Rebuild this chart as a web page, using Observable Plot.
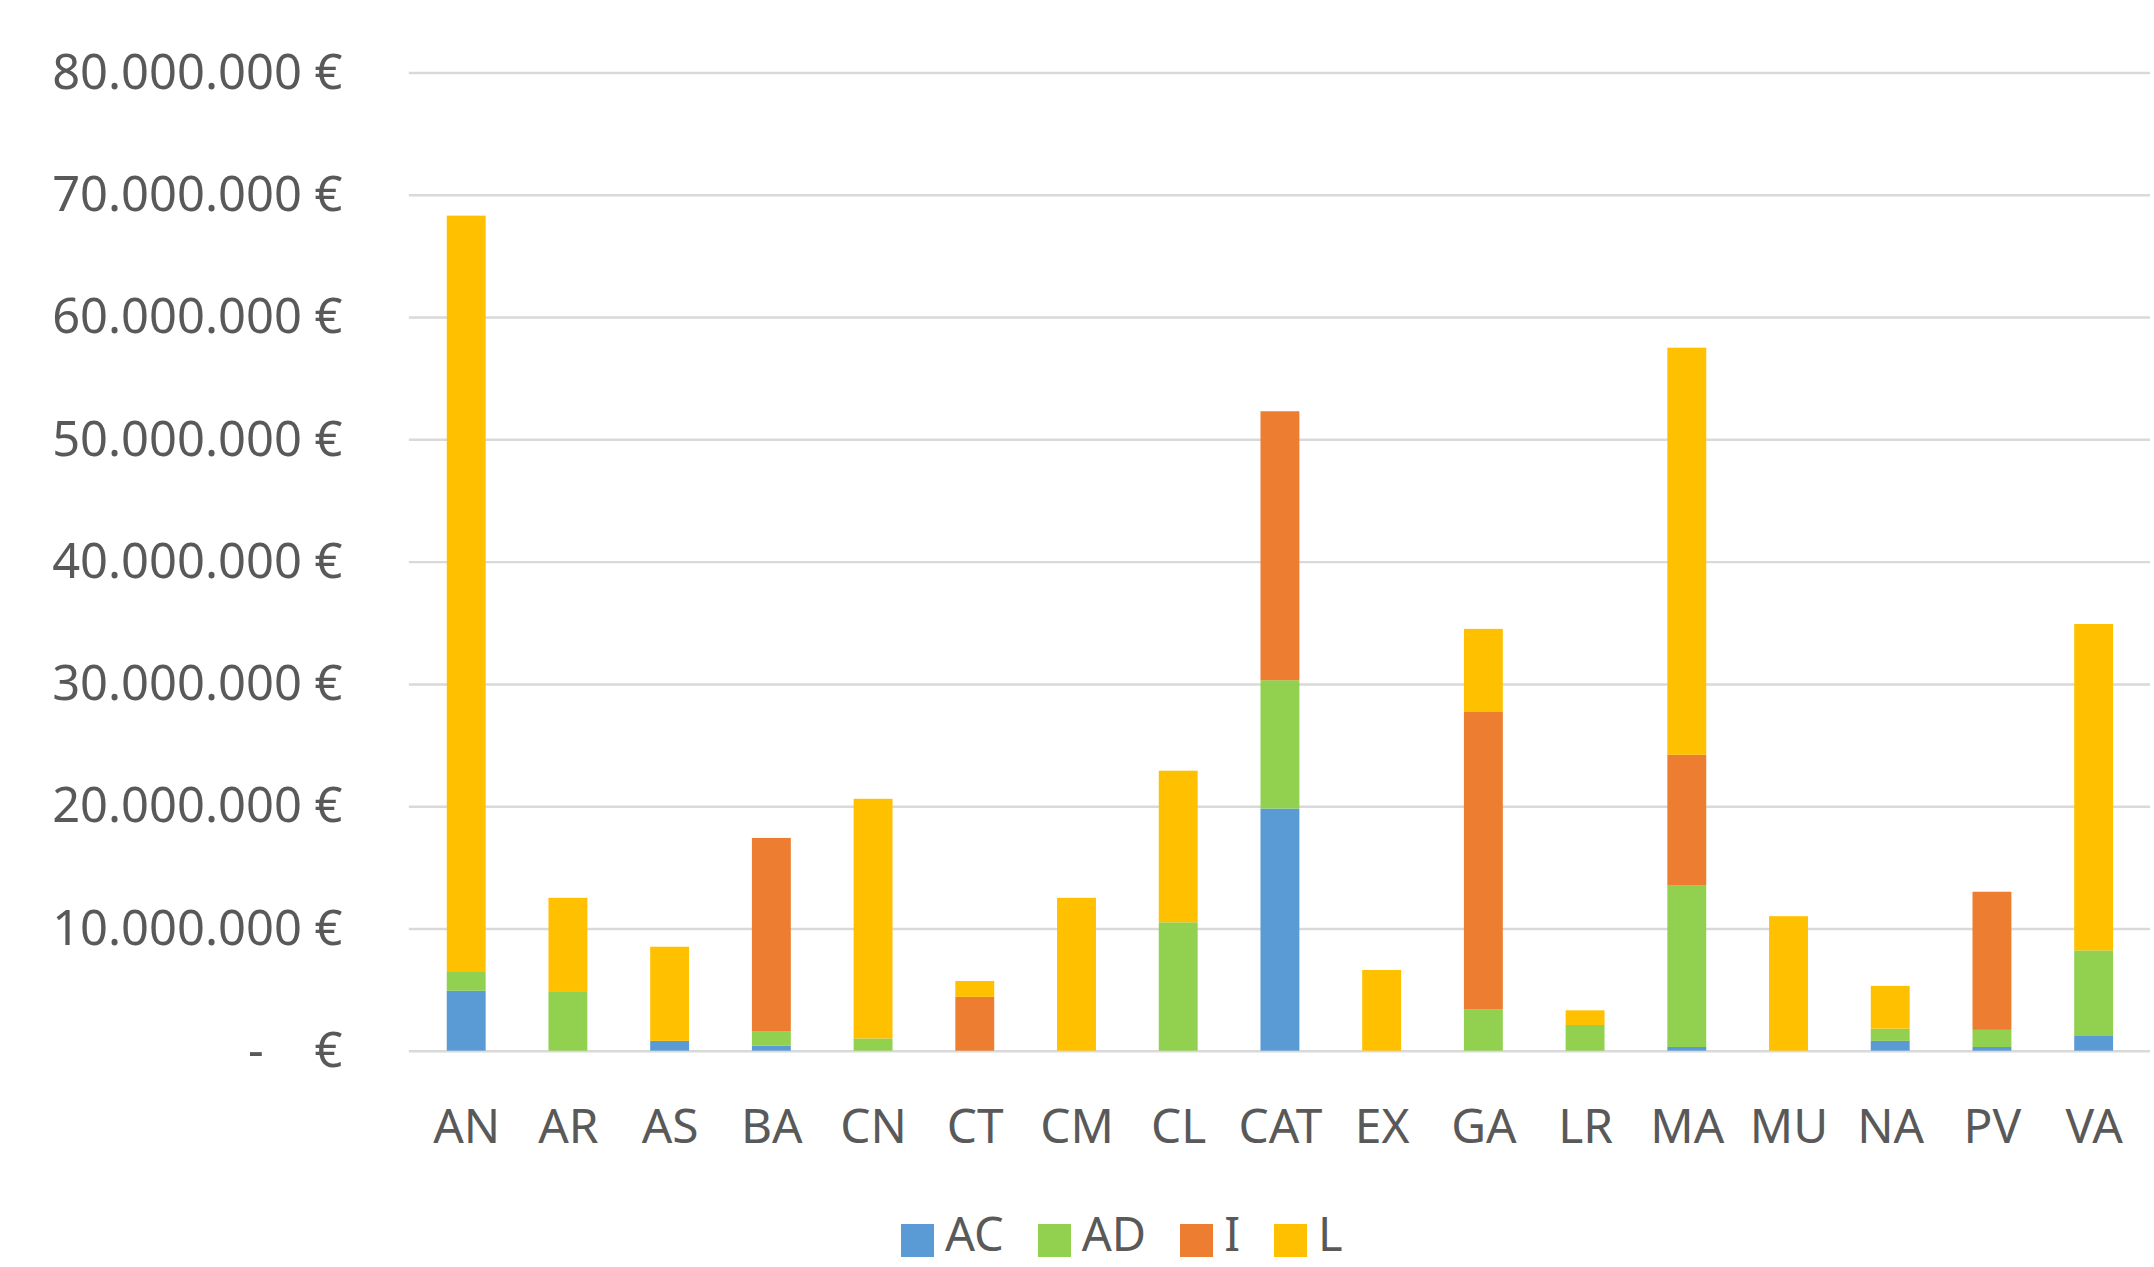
<!DOCTYPE html>
<html>
<head>
<meta charset="utf-8">
<script src="https://cdn.jsdelivr.net/npm/d3@7"></script>
<script src="https://cdn.jsdelivr.net/npm/@observablehq/plot@0.6"></script>
<style>
  html, body { margin: 0; padding: 0; background: #fff; overflow: hidden; width: 2154px; height: 1267px; }
  #chart { position: absolute; left: 0; top: 0; }
  #legend { position: absolute; left: 901px; top: 1210px; display: flex; align-items: flex-start;
            font-family: "Noto Sans", sans-serif; font-size: 47px; line-height: 47px; color: #595959; white-space: nowrap; }
  .item { display: flex; align-items: flex-start; margin-right: 34px; }
  .sw { width: 33px; height: 33px; margin-top: 14px; margin-right: 11px; }
</style>
</head>
<body>
<div id="chart"></div>
<div id="legend"></div>
<script>
// Categories (regions)
const categories = ["AN","AR","AS","BA","CN","CT","CM","CL","CAT","EX","GA","LR","MA","MU","NA","PV","VA"];
// Series names and colours
const seriesNames = ["AC","AD","I","L"];
const seriesColors = ["#5B9BD5","#92D050","#ED7D31","#FFC000"];
// Segment values, in millions of euros
const AC = [4.9, 0,   0.8, 0.4,  0,    0,   0,    0,    19.8, 0,   0,    0,   0.3,  0,    0.8, 0.3,  1.2];
const AD = [1.6, 4.8, 0,   1.2,  1.0,  0,   0,    10.5, 10.5, 0,   3.4,  2.1, 13.2, 0,    1.0, 1.4,  7.0];
const I  = [0,   0,   0,   15.8, 0,    4.4, 0,    0,    22.0, 0,   24.3, 0,   10.7, 0,    0,   11.3, 0];
const L  = [61.8,7.7, 7.7, 0,    19.6, 1.3, 12.5, 12.4, 0,    6.6, 6.8,  1.2, 33.3, 11.0, 3.5, 0,    26.7];
// Y axis ticks and labels
const yTicks = [0, 10e6, 20e6, 30e6, 40e6, 50e6, 60e6, 70e6, 80e6];
const yTickLabels = ["-\u00a0\u00a0\u00a0\u00a0€", "10.000.000 €", "20.000.000 €", "30.000.000 €", "40.000.000 €",
                     "50.000.000 €", "60.000.000 €", "70.000.000 €", "80.000.000 €"];

const seriesValues = [AC, AD, I, L];
const rows = [];
seriesNames.forEach((s, si) => {
  categories.forEach((c, ci) => {
    rows.push({cat: c, series: s, value: seriesValues[si][ci] * 1e6});
  });
});

const textColor = "#595959";
const chart = Plot.plot({
  width: 2160,
  height: 1160,
  marginLeft: 410,
  marginRight: 4,
  marginTop: 72.8,
  marginBottom: 106.4,
  style: {fontFamily: "'Noto Sans', sans-serif", fontSize: "47px", color: textColor, background: "#fff", overflow: "visible"},
  x: {domain: categories, paddingInner: 0.62, paddingOuter: 0.31, label: null},
  y: {domain: [0, 80e6], label: null},
  color: {domain: seriesNames, range: seriesColors},
  marks: [
    Plot.ruleY(yTicks, {stroke: "#d9d9d9", strokeWidth: 2.5}),
    Plot.barY(rows, {x: "cat", y: "value", fill: "series"}),
    Plot.axisY(yTicks, {tickSize: 0, tickPadding: 67, tickFormat: d => yTickLabels[yTicks.indexOf(d)],
                        fontSize: 49, fill: textColor, label: null}),
    Plot.axisX({tickSize: 0, tickPadding: 58, fontSize: 48, fill: textColor, label: null})
  ]
});
document.getElementById("chart").appendChild(chart);

// Legend
const legend = d3.select("#legend");
seriesNames.forEach((s, i) => {
  const item = legend.append("div").attr("class", "item");
  item.append("div").attr("class", "sw").style("background", seriesColors[i]);
  item.append("span").text(s);
});
</script>
</body>
</html>
